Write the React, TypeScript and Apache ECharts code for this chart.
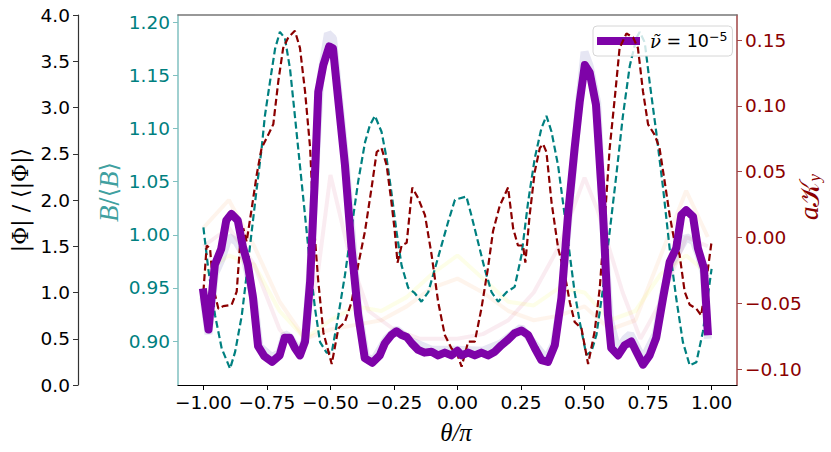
import React, { useEffect, useRef } from "react";
import * as echarts from "echarts";

// |Phi|/<|Phi|> for nu = 1e-5 (highlighted series)
const phiTheta = [-1.0, -0.98, -0.955, -0.93, -0.91, -0.89, -0.865, -0.845, -0.825, -0.805, -0.785, -0.76, -0.73, -0.7, -0.68, -0.66, -0.64, -0.62, -0.6, -0.58, -0.562, -0.548, -0.528, -0.505, -0.49, -0.47, -0.443, -0.417, -0.391, -0.365, -0.335, -0.306, -0.286, -0.26, -0.24, -0.22, -0.2, -0.18, -0.155, -0.13, -0.102, -0.076, -0.05, -0.024, 0.0, 0.016, 0.042, 0.068, 0.094, 0.12, 0.147, 0.173, 0.199, 0.225, 0.252, 0.278, 0.304, 0.33, 0.356, 0.383, 0.409, 0.435, 0.461, 0.481, 0.501, 0.52, 0.545, 0.573, 0.592, 0.605, 0.632, 0.658, 0.684, 0.704, 0.73, 0.756, 0.782, 0.809, 0.835, 0.861, 0.881, 0.9, 0.927, 0.946, 0.97, 0.985];
const phiValues = [1.0, 0.6, 1.3, 1.47, 1.78, 1.85, 1.78, 1.5, 1.3, 0.95, 0.42, 0.31, 0.25, 0.32, 0.51, 0.51, 0.4, 0.32, 0.47, 1.12, 2.2, 3.17, 3.46, 3.66, 3.64, 3.1, 2.38, 1.48, 0.76, 0.29, 0.24, 0.32, 0.45, 0.54, 0.58, 0.54, 0.52, 0.45, 0.38, 0.35, 0.36, 0.32, 0.35, 0.32, 0.37, 0.32, 0.35, 0.32, 0.35, 0.32, 0.36, 0.43, 0.49, 0.56, 0.59, 0.54, 0.4, 0.27, 0.25, 0.43, 0.94, 1.84, 2.56, 3.06, 3.46, 3.38, 3.03, 1.84, 0.76, 0.4, 0.32, 0.43, 0.47, 0.36, 0.22, 0.32, 0.51, 0.94, 1.33, 1.48, 1.84, 1.89, 1.82, 1.48, 1.26, 0.58];

// faint (other nu) curves
const lavTheta = [-1.0, -0.98, -0.955, -0.93, -0.9, -0.87, -0.84, -0.8, -0.78, -0.73, -0.7, -0.68, -0.66, -0.62, -0.6, -0.58, -0.56, -0.54, -0.51, -0.49, -0.47, -0.44, -0.39, -0.36, -0.33, -0.28, -0.24, -0.18, -0.1, 0.0, 0.1, 0.17, 0.25, 0.3, 0.35, 0.38, 0.41, 0.44, 0.48, 0.5, 0.52, 0.55, 0.57, 0.6, 0.63, 0.66, 0.68, 0.73, 0.78, 0.81, 0.84, 0.88, 0.9, 0.93, 0.95, 0.97, 0.985];
const lavValues = [0.95, 0.55, 1.2, 1.35, 1.6, 1.55, 1.4, 0.9, 0.42, 0.3, 0.35, 0.55, 0.52, 0.35, 0.5, 1.2, 2.3, 3.3, 3.8, 3.75, 3.2, 2.4, 0.8, 0.3, 0.27, 0.5, 0.6, 0.47, 0.38, 0.38, 0.37, 0.45, 0.62, 0.45, 0.28, 0.45, 0.95, 1.9, 3.1, 3.6, 3.45, 3.05, 1.9, 0.7, 0.38, 0.5, 0.55, 0.28, 0.55, 1.0, 1.3, 1.5, 1.6, 1.55, 1.4, 1.2, 0.5];
const pinkTheta = [-1.0, -0.9, -0.8, -0.7, -0.62, -0.55, -0.5, -0.42, -0.35, -0.25, -0.15, 0.0, 0.1, 0.2, 0.3, 0.4, 0.5, 0.55, 0.65, 0.72, 0.8, 0.9, 0.985];
const pinkValues = [1.5, 1.7, 1.3, 0.6, 0.35, 1.2, 2.27, 1.35, 0.8, 0.6, 0.5, 0.5, 0.55, 0.7, 1.0, 1.5, 2.24, 1.9, 1.0, 0.5, 0.9, 1.6, 1.5];
const yellowTheta = [-1.0, -0.9, -0.8, -0.7, -0.6, -0.5, -0.4, -0.3, -0.2, -0.1, 0.0, 0.1, 0.2, 0.3, 0.4, 0.5, 0.6, 0.7, 0.8, 0.9, 0.985];
const yellowValues = [1.2, 1.4, 1.3, 0.8, 0.5, 0.7, 0.85, 0.8, 0.95, 1.2, 1.4, 1.15, 0.9, 0.86, 1.05, 1.0, 0.7, 0.8, 1.2, 1.4, 1.2];
const peachTheta = [-1.0, -0.9, -0.8, -0.7, -0.6, -0.5, -0.4, -0.3, -0.2, -0.1, 0.0, 0.1, 0.2, 0.3, 0.4, 0.5, 0.6, 0.7, 0.8, 0.9, 0.985];
const peachValues = [1.7, 2.0, 1.5, 0.9, 0.5, 0.6, 0.65, 0.7, 0.85, 1.05, 1.15, 1.0, 0.8, 0.7, 0.75, 0.85, 0.6, 0.7, 1.4, 2.1, 1.6];

// B/<B>
const bTheta = [-1.0, -0.981, -0.954, -0.928, -0.895, -0.875, -0.849, -0.83, -0.81, -0.79, -0.771, -0.758, -0.738, -0.718, -0.699, -0.679, -0.659, -0.64, -0.62, -0.6, -0.58, -0.561, -0.541, -0.515, -0.495, -0.469, -0.443, -0.417, -0.391, -0.364, -0.345, -0.325, -0.299, -0.279, -0.26, -0.24, -0.22, -0.194, -0.168, -0.142, -0.115, -0.089, -0.063, -0.037, -0.01, 0.035, 0.055, 0.081, 0.107, 0.134, 0.16, 0.193, 0.225, 0.252, 0.278, 0.304, 0.33, 0.35, 0.37, 0.396, 0.422, 0.442, 0.461, 0.481, 0.507, 0.527, 0.547, 0.573, 0.599, 0.625, 0.651, 0.678, 0.704, 0.717, 0.737, 0.756, 0.782, 0.809, 0.835, 0.861, 0.887, 0.914, 0.94, 0.966, 1.0];
const bValues = [1.007, 0.968, 0.924, 0.893, 0.874, 0.89, 0.924, 0.962, 1.003, 1.044, 1.081, 1.112, 1.144, 1.175, 1.191, 1.185, 1.156, 1.112, 1.065, 1.018, 0.971, 0.931, 0.899, 0.889, 0.889, 0.924, 0.962, 1.006, 1.05, 1.087, 1.103, 1.112, 1.097, 1.072, 1.04, 1.003, 0.971, 0.95, 0.945, 0.937, 0.946, 0.968, 0.99, 1.012, 1.033, 1.036, 1.018, 0.993, 0.968, 0.946, 0.937, 0.946, 0.951, 0.981, 1.031, 1.072, 1.1, 1.112, 1.097, 1.065, 1.018, 0.981, 0.946, 0.918, 0.887, 0.89, 0.906, 0.95, 1.003, 1.056, 1.112, 1.159, 1.185, 1.191, 1.181, 1.144, 1.097, 1.044, 0.987, 0.94, 0.899, 0.877, 0.88, 0.909, 0.968];

// a K_y
const kTheta = [-1.0, -0.987, -0.974, -0.961, -0.941, -0.922, -0.889, -0.869, -0.856, -0.843, -0.83, -0.81, -0.79, -0.771, -0.745, -0.725, -0.705, -0.686, -0.666, -0.64, -0.62, -0.6, -0.58, -0.568, -0.548, -0.528, -0.495, -0.469, -0.443, -0.417, -0.391, -0.364, -0.338, -0.318, -0.299, -0.279, -0.26, -0.247, -0.236, -0.22, -0.2, -0.178, -0.155, -0.128, -0.102, -0.076, -0.05, -0.024, 0.0, 0.016, 0.042, 0.068, 0.094, 0.12, 0.14, 0.166, 0.199, 0.219, 0.238, 0.258, 0.267, 0.284, 0.304, 0.324, 0.337, 0.35, 0.37, 0.396, 0.422, 0.442, 0.461, 0.488, 0.514, 0.54, 0.56, 0.579, 0.599, 0.619, 0.638, 0.665, 0.691, 0.71, 0.73, 0.75, 0.776, 0.795, 0.815, 0.835, 0.854, 0.874, 0.894, 0.914, 0.94, 0.959, 0.979, 1.0];
const kValues = [-0.041, -0.006, -0.008, -0.038, -0.054, -0.052, -0.051, -0.041, -0.006, 0.007, -0.003, 0.022, 0.048, 0.068, 0.078, 0.086, 0.119, 0.144, 0.152, 0.157, 0.144, 0.111, 0.068, 0.017, -0.033, -0.072, -0.096, -0.069, -0.064, -0.049, -0.021, 0.005, 0.038, 0.065, 0.068, 0.055, 0.027, 0.005, -0.019, -0.006, -0.004, 0.038, 0.03, 0.017, -0.013, -0.049, -0.074, -0.084, -0.089, -0.098, -0.079, -0.079, -0.054, -0.023, 0.005, 0.024, 0.038, 0.007, -0.006, -0.006, -0.019, 0.017, 0.05, 0.068, 0.071, 0.065, 0.027, -0.008, -0.028, -0.049, -0.064, -0.069, -0.096, -0.071, -0.038, 0.012, 0.068, 0.106, 0.144, 0.155, 0.152, 0.144, 0.111, 0.086, 0.078, 0.068, 0.043, 0.017, -0.003, -0.013, -0.041, -0.051, -0.054, -0.059, -0.033, -0.003];

// tick values
const xTicks = [-1.0, -0.75, -0.5, -0.25, 0.0, 0.25, 0.5, 0.75, 1.0];
const bTicks = [0.9, 0.95, 1.0, 1.05, 1.1, 1.15, 1.2];
const kTicks = [-0.1, -0.05, 0.0, 0.05, 0.1, 0.15];

const legendLabel = "ν̃ = 10⁻⁵";

const pairs = (xs: number[], ys: number[]) => xs.map((x, i) => [x, ys[i]]);
const fmt = (v: number, d: number) => {
  const s = Math.abs(v).toFixed(d);
  return (v < 0 && Number(s) !== 0 ? "\u2212" : "") + s;
};

const TEAL = "#008080";
const DRED = "#8B0000";
const PURPLE = "#7E03A8";
const TICKFONT = "DejaVu Sans";
const TICKSIZE = 18.5;

export default function App() {
  const ref = useRef<HTMLDivElement>(null);
  useEffect(() => {
    document.body.style.margin = "0";
    if (!ref.current) return;
    const chart = echarts.init(ref.current, null, { renderer: "svg" });
    const faint = (name: string, color: string, xs: number[], ys: number[], w: number) => ({
      name,
      type: "line",
      yAxisIndex: 0,
      data: pairs(xs, ys),
      symbol: "none",
      z: 1,
      lineStyle: { color, width: w, opacity: 0.1 },
      silent: true,
    });
    chart.setOption({
      animation: false,
      grid: { left: 178, top: 15, width: 559, height: 370, containLabel: false },
      xAxis: [
        {
          type: "value",
          min: -1.1,
          max: 1.1,
          splitLine: { show: false },
          axisLine: { onZero: false, lineStyle: { color: "#000", width: 1.2 } },
          axisTick: { customValues: xTicks, length: 5, lineStyle: { color: "#000" } },
          axisLabel: {
            customValues: xTicks,
            formatter: (v: number) => fmt(v, 2),
            color: "#000",
            fontFamily: TICKFONT,
            fontSize: TICKSIZE,
            margin: 8,
          },
        },
        {
          type: "value",
          position: "top",
          min: -1.1,
          max: 1.1,
          splitLine: { show: false },
          axisLine: { onZero: false, lineStyle: { color: "#777", width: 1.5 } },
          axisTick: { show: false },
          axisLabel: { show: false },
        },
      ],
      yAxis: [
        {
          type: "value",
          position: "left",
          offset: 100,
          min: 0,
          max: 4,
          interval: 0.5,
          splitLine: { show: false },
          axisLine: { show: true, onZero: false, lineStyle: { color: "#333", width: 1.2 } },
          axisTick: { show: true, length: 5, lineStyle: { color: "#333" } },
          axisLabel: { formatter: (v: number) => fmt(v, 1), color: "#000", fontFamily: TICKFONT, fontSize: TICKSIZE, margin: 8 },
        },
        {
          type: "value",
          position: "left",
          offset: 0,
          min: 0.8586,
          max: 1.2069,
          splitLine: { show: false },
          axisLine: { show: true, onZero: false, lineStyle: { color: "#80c0c0", width: 1.5 } },
          axisTick: { show: true, customValues: bTicks, length: 5, lineStyle: { color: "#80c0c0" } },
          axisLabel: { customValues: bTicks, formatter: (v: number) => fmt(v, 2), color: TEAL, fontFamily: TICKFONT, fontSize: TICKSIZE, margin: 8 },
        },
        {
          type: "value",
          position: "right",
          offset: 0,
          min: -0.1119,
          max: 0.169,
          splitLine: { show: false },
          axisLine: { show: true, onZero: false, lineStyle: { color: "#a04545", width: 1.5 } },
          axisTick: { show: true, customValues: kTicks, length: 5, lineStyle: { color: "#a04545" } },
          axisLabel: { customValues: kTicks, formatter: (v: number) => fmt(v, 2), color: DRED, fontFamily: TICKFONT, fontSize: TICKSIZE, margin: 8 },
        },
      ],
      legend: {
        data: [legendLabel],
        left: 593,
        top: 26,
        orient: "vertical",
        padding: [4, 5, 4, 4],
        itemWidth: 43,
        itemHeight: 8,
        icon: "rect",
        borderColor: "#d6d6d6",
        borderWidth: 1,
        borderRadius: 4,
        backgroundColor: "rgba(255,255,255,0.8)",
        z: 4,
        formatter: () => "{n|ν̃} = 10{s|−5}",
        textStyle: {
          color: "#000",
          fontFamily: TICKFONT,
          fontSize: 17.5,
          lineHeight: 22,
          padding: [0, 0, 0, 5],
          rich: {
            n: { fontFamily: "'DejaVu Serif'", fontStyle: "italic", fontSize: 18, lineHeight: 22, color: "#000" },
            s: { fontFamily: TICKFONT, fontSize: 12.5, lineHeight: 13, verticalAlign: "top", color: "#000" },
          },
        },
      },
      series: [
        faint("nu_a", "#0d0887", lavTheta, lavValues, 8),
        faint("nu_c", "#cc4778", pinkTheta, pinkValues, 4),
        faint("nu_d", "#f89540", peachTheta, peachValues, 4),
        faint("nu_e", "#f0f921", yellowTheta, yellowValues, 4),
        {
          name: "B",
          type: "line",
          yAxisIndex: 1,
          data: pairs(bTheta, bValues),
          symbol: "none",
          z: 2,
          lineStyle: { color: TEAL, width: 2.2, type: [7, 3.5] },
        },
        {
          name: "K",
          type: "line",
          yAxisIndex: 2,
          data: pairs(kTheta, kValues),
          symbol: "none",
          z: 5,
          lineStyle: { color: DRED, width: 2.2, type: [7, 3.5] },
        },
        {
          name: legendLabel,
          type: "line",
          yAxisIndex: 0,
          data: pairs(phiTheta, phiValues),
          symbol: "none",
          z: 6,
          color: PURPLE,
          itemStyle: { color: PURPLE },
          lineStyle: { color: PURPLE, width: 8, cap: "square", join: "round" },
        },
      ],
      graphic: [
        {
          type: "text",
          x: 20,
          y: 200,
          rotation: Math.PI / 2,
          style: {
            text: "|Φ| / ⟨|Φ|⟩",
            fill: "#000",
            font: "22px 'DejaVu Serif'",
            textAlign: "center",
            textVerticalAlign: "middle",
            align: "center",
            verticalAlign: "middle",
          },
        },
        {
          type: "text",
          x: 109,
          y: 192,
          rotation: Math.PI / 2,
          style: {
            text: "{i|B}{n|/⟨}{i|B}{n|⟩}",
            fill: "#40a0a0",
            textAlign: "center",
            textVerticalAlign: "middle",
            align: "center",
            verticalAlign: "middle",
            rich: {
              i: { font: "italic 27px 'Liberation Serif'", fill: "#40a0a0" },
              n: { font: "24px 'DejaVu Serif'", fill: "#40a0a0" },
            },
          },
        },
        {
          type: "text",
          x: 809,
          y: 197,
          rotation: Math.PI / 2,
          style: {
            text: "{i|a}{k|𝒦}{s|y}",
            fill: DRED,
            textAlign: "center",
            textVerticalAlign: "middle",
            align: "center",
            verticalAlign: "middle",
            rich: {
              i: { font: "italic 27px 'Liberation Serif'", fill: DRED },
              k: { font: "27px 'DejaVu Sans', 'Noto Sans', serif", fill: DRED },
              s: { font: "italic 17px 'Liberation Serif'", fill: DRED, verticalAlign: "bottom", padding: [10, 0, 0, 0] },
            },
          },
        },
        {
          type: "text",
          x: 456,
          y: 432,
          style: {
            text: "θ/π",
            fill: "#000",
            font: "italic 25px 'Liberation Serif'",
            textAlign: "center",
            textVerticalAlign: "middle",
            align: "center",
            verticalAlign: "middle",
          },
        },
      ],
    });
    return () => chart.dispose();
  }, []);
  return <div ref={ref} style={{ width: 831, height: 452 }} />;
}
